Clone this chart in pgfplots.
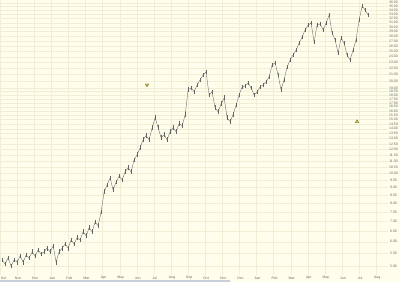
\documentclass[border=0pt]{standalone}
\usepackage{fontspec}
\setmainfont{Liberation Sans}
\usepackage{pgfplots}
\pgfplotsset{compat=1.18}
\definecolor{bg}{RGB}{255,254,236}
\definecolor{gridc}{RGB}{241,238,214}
\definecolor{price}{RGB}{100,100,100}
\definecolor{tri}{RGB}{210,195,40}
\definecolor{trio}{RGB}{110,100,20}
\definecolor{txt}{RGB}{100,100,100}
\definecolor{scroll}{RGB}{200,206,218}
\begin{document}
\begin{tikzpicture}
\path[use as bounding box, fill=bg] (0,0) rectangle (400pt,282pt);
\fill[scroll] (0,0) rectangle (230pt,2pt);
\begin{axis}[
  at={(0,7pt)}, anchor=south west,
  scale only axis, width=388pt, height=275pt,
  xmin=0, xmax=22.69, ymode=log, ymin=4.675, ymax=36.74,
  axis line style={draw=none},
  major tick length=0pt,
  xtick={0,1,...,22},
  xticklabels={\makebox[0pt][l]{Oct},Nov,Dec,Jan,Feb,Mar,Apr,May,Jun,Jul,Aug,Sep,Oct,Nov,Dec,Jan,Feb,Mar,Apr,May,Jun,Jul,Aug},
  xticklabel style={font=\fontsize{3.5}{4}\selectfont, text=txt, anchor=center, xshift=1pt, yshift=-3pt},
  ytick={5,5.5,6,6.5,7,7.5,8,8.5,9,9.5,10,10.5,11,11.5,12,12.5,13,13.5,14,14.5,15,15.5,16,16.5,17,17.5,18,18.5,19,20,21,22,23,24,25,26,27,28,29,30,31,32,33,34,35,36},
  yticklabels={5.00,5.50,6.00,6.50,7.00,7.50,8.00,8.50,9.00,9.50,10.00,10.50,11.00,11.50,12.00,12.50,13.00,13.50,14.00,14.50,15.00,15.50,16.00,16.50,17.00,17.50,18.00,18.50,19.00,20.00,21.00,22.00,23.00,24.00,25.00,26.00,27.00,28.00,29.00,30.00,31.00,32.00,33.00,34.00,35.00,36.00},
  yticklabel pos=right,
  yticklabel style={font=\fontsize{3.5}{4}\selectfont, text=txt, anchor=center, xshift=5.5pt},
  xmajorgrids, ymajorgrids,
  grid style={gridc, line width=0.3pt},
  clip=false,
]
\addplot[price, line width=0.35pt, mark=none,
  error bars/.cd, y dir=both, y fixed relative=0.018, error mark=none,
  error bar style={price, line width=0.35pt}]
coordinates {
(0.12,5.23) (0.30,5.08) (0.47,5.31) (0.65,5.00) (0.82,5.23) (1.00,5.15)
(1.18,5.39) (1.35,5.15) (1.53,5.43) (1.70,5.31) (1.88,5.56) (2.05,5.39)
(2.23,5.64) (2.40,5.47) (2.58,5.56) (2.75,5.72) (2.93,5.56) (3.11,5.81)
(3.28,5.15) (3.46,5.56) (3.63,5.72) (3.81,5.90) (3.98,5.72) (4.16,6.08)
(4.33,5.90) (4.51,6.18) (4.68,6.08) (4.86,6.46) (5.04,6.27) (5.21,6.66)
(5.39,6.46) (5.56,6.96) (5.74,6.76) (5.91,7.50) (6.09,8.72) (6.26,9.18)
(6.44,9.68) (6.61,8.85) (6.79,9.39) (6.97,9.82) (7.14,9.53) (7.32,10.13)
(7.49,10.44) (7.67,10.13) (7.84,11.08) (8.02,11.51) (8.19,12.13) (8.37,12.89)
(8.54,13.28) (8.72,12.89) (8.90,14.10) (9.07,15.19) (9.25,14.10) (9.42,13.08)
(9.60,13.38) (9.77,12.89) (9.95,13.68) (10.12,14.10) (10.30,13.68) (10.47,14.53)
(10.65,14.31) (10.83,15.54) (11.00,18.73) (11.18,19.01) (11.35,18.45) (11.53,19.44)
(11.70,20.18) (11.88,20.95) (12.05,21.42) (12.23,18.02) (12.40,18.45) (12.58,16.37)
(12.76,15.89) (12.93,16.87) (13.11,17.64) (13.28,15.19) (13.46,14.75) (13.63,15.54)
(13.81,16.72) (13.98,18.02) (14.16,19.15) (14.33,19.30) (14.51,19.73) (14.68,19.01)
(14.86,18.02) (15.04,18.45) (15.21,19.15) (15.39,19.44) (15.56,19.88) (15.74,20.64)
(15.91,22.58) (16.09,22.92) (16.26,20.95) (16.44,18.73) (16.61,20.18) (16.79,22.24)
(16.97,23.44) (17.14,24.33) (17.32,25.25) (17.49,26.61) (17.67,27.84) (17.84,29.33)
(18.02,30.46) (18.19,30.92) (18.37,26.81) (18.54,30.46) (18.72,30.69) (18.90,29.33)
(19.07,30.92) (19.25,32.83) (19.42,28.68) (19.60,27.22) (19.77,24.69) (19.95,27.63)
(20.12,26.61) (20.29,24.33) (20.47,23.44) (20.65,25.25) (20.82,27.22) (21.00,31.62)
(21.18,35.12) (21.35,34.08) (21.53,32.83)
};
\addplot[only marks, mark=triangle*, mark size=2pt,
  mark options={fill=tri, draw=trio, line width=0.3pt, rotate=180}]
coordinates {(8.60,19.44)};
\addplot[only marks, mark=triangle*, mark size=2pt,
  mark options={fill=tri, draw=trio, line width=0.3pt}]
coordinates {(20.88,14.75)};
\end{axis}
\end{tikzpicture}
\end{document}
